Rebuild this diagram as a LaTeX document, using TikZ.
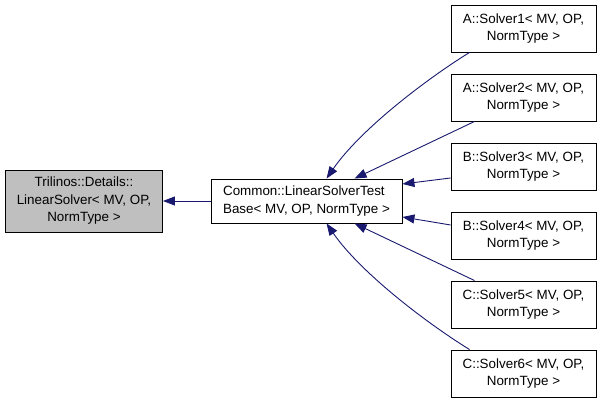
\documentclass[tikz,border=0pt]{standalone}
\usepackage{fontspec}
\setmainfont{Liberation Sans}
\usetikzlibrary{arrows.meta}
\definecolor{edgeblue}{HTML}{191970}
\definecolor{boxgray}{HTML}{BFBFBF}
\begin{document}
\begin{tikzpicture}[x=1pt,y=-1pt,
  box/.style={draw=black, line width=0.9pt, fill=white, rectangle, inner sep=0pt,
    minimum width=145pt, minimum height=47pt, align=center,
    font=\fontsize{13.4}{17.5}\selectfont},
  edge/.style={draw=edgeblue, line width=0.9pt, -{Triangle[length=12pt,width=9pt]}}]
\useasboundingbox[fill=white] (0,0) rectangle (603,403);
\node[box, fill=boxgray, minimum width=157pt, minimum height=62pt] (base) at (84,201)
  {Trilinos::Details::\\LinearSolver< MV, OP,\\NormType >};
\node[box, minimum width=191pt, minimum height=44pt, align=left] (mid) at (306.5,201)
  {Common::LinearSolverTest\\Base< MV, OP, NormType >};
\node[box] (s1) at (523.5,28.5) {A::Solver1< MV, OP,\\NormType >};
\node[box] (s2) at (523.5,97.5) {A::Solver2< MV, OP,\\NormType >};
\node[box] (s3) at (523.5,166.5) {B::Solver3< MV, OP,\\NormType >};
\node[box] (s4) at (523.5,235.5) {B::Solver4< MV, OP,\\NormType >};
\node[box] (s5) at (523.5,304.5) {C::Solver5< MV, OP,\\NormType >};
\node[box] (s6) at (523.5,373.5) {C::Solver6< MV, OP,\\NormType >};
\draw[edge] (mid.west) -- (base.east);
\draw[edge] ([xshift=19pt]s1.south west) .. controls (425,80) and (360,130) .. ([xshift=116pt]mid.north west);
\draw[edge] ([xshift=24pt]s2.south west) -- ([xshift=144pt]mid.north west);
\draw[edge] ([yshift=-11.5pt]s3.west) -- ([yshift=17pt]mid.east);
\draw[edge] ([yshift=10.5pt]s4.west) -- ([yshift=-16pt]mid.east);
\draw[edge] ([xshift=24pt]s5.north west) -- ([xshift=144pt]mid.south west);
\draw[edge] ([xshift=19pt]s6.north west) .. controls (425,322) and (360,272) .. ([xshift=116pt]mid.south west);
\end{tikzpicture}
\end{document}
